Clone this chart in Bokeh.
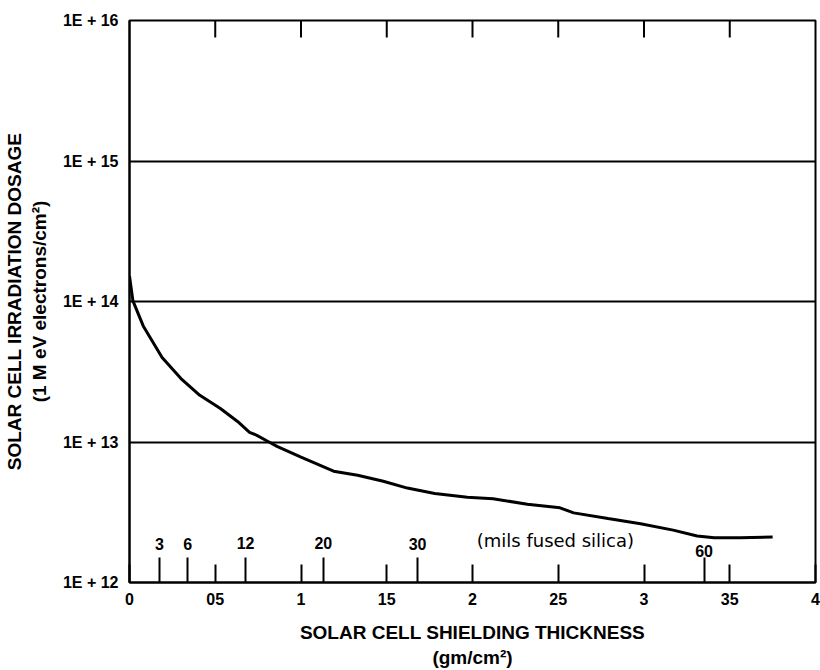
from bokeh.plotting import figure
from bokeh.models import FixedTicker, CustomJSTickFormatter, Range1d, ColumnDataSource
from bokeh.core.properties import value
from bokeh.embed import file_html
from bokeh.resources import INLINE

# ---- data ----
thickness = [0.000, 0.002, 0.008, 0.019, 0.030, 0.041, 0.053, 0.063, 0.070, 0.074,
             0.080, 0.086, 0.100, 0.119, 0.133, 0.148, 0.162, 0.178, 0.197, 0.212,
             0.232, 0.251, 0.259, 0.279, 0.298, 0.317, 0.331, 0.341, 0.356, 0.375]
dosage = [1.52e14, 1.01e14, 6.7e13, 4.0e13, 2.83e13, 2.15e13, 1.73e13, 1.40e13, 1.17e13, 1.12e13,
          1.02e13, 9.3e12, 7.8e12, 6.2e12, 5.8e12, 5.25e12, 4.7e12, 4.3e12, 4.05e12, 3.95e12,
          3.6e12, 3.4e12, 3.13e12, 2.85e12, 2.62e12, 2.36e12, 2.14e12, 2.08e12, 2.08e12, 2.11e12]

x_ticks = [0.0, 0.05, 0.1, 0.15, 0.2, 0.25, 0.3, 0.35, 0.4]
x_tick_labels = ["0", "05", "1", "15", "2", "25", "3", "35", "4"]
y_ticks = [1e12, 1e13, 1e14, 1e15, 1e16]
y_tick_labels = ["1E + 12", "1E + 13", "1E + 14", "1E + 15", "1E + 16"]

mil_labels = ["3", "6", "12", "20", "30", "60"]
mil_thickness = [0.0175, 0.0340, 0.0677, 0.1130, 0.1680, 0.3350]
mil_label_offsets = [-33, -33, -34, -34, -33, -26]
silica_note = "(mils  fused silica)"
silica_note_x = 0.25

FONT = "Liberation Sans"
W, H = 820, 670
B_LEFT, B_RIGHT, B_TOP, B_BOTTOM = 129, 5, 20, 85
TOP_TICK_PX = 17

p = figure(width=W, height=H,
           x_range=Range1d(x_ticks[0], x_ticks[-1]), y_range=Range1d(y_ticks[0], y_ticks[-1]),
           y_axis_type="log", output_backend="svg", toolbar_location=None,
           min_border_left=B_LEFT, min_border_right=B_RIGHT,
           min_border_top=B_TOP, min_border_bottom=B_BOTTOM)
p.background_fill_color = "white"
p.border_fill_color = "white"
p.outline_line_color = "black"
p.outline_line_width = 2

# grid
p.xgrid.visible = False
p.ygrid.ticker = FixedTicker(ticks=y_ticks)
p.ygrid.grid_line_color = "black"
p.ygrid.grid_line_alpha = 1.0
p.ygrid.grid_line_width = 2

# x axis (bottom)
xa = p.xaxis[0]
xa.ticker = FixedTicker(ticks=x_ticks, minor_ticks=mil_thickness)
xa.formatter = CustomJSTickFormatter(args=dict(vals=x_ticks, labs=x_tick_labels), code="""
let b = 0;
for (let i = 0; i < vals.length; i++) { if (Math.abs(vals[i] - tick) < Math.abs(vals[b] - tick)) b = i; }
return labs[b];
""")
xa.axis_line_width = 2
xa.axis_line_color = "black"
xa.major_tick_in = 18
xa.major_tick_out = 0
xa.major_tick_line_width = 2
xa.minor_tick_in = 25
xa.minor_tick_out = 0
xa.minor_tick_line_width = 2
xa.major_label_standoff = 10
xa.major_label_text_font = FONT
xa.major_label_text_font_size = "16px"
xa.major_label_text_font_style = "bold"
xa.major_label_text_color = "black"
xa.axis_label = "SOLAR CELL SHIELDING THICKNESS\n(gm/cm\u00b2)"
xa.axis_label_text_font = FONT
xa.axis_label_text_font_size = "19px"
xa.axis_label_text_font_style = "bold"
xa.axis_label_text_color = "black"
xa.axis_label_standoff = 14
xa.axis_label_text_align = "center"

# y axis (left)
ya = p.yaxis[0]
ya.ticker = FixedTicker(ticks=y_ticks)
ya.formatter = CustomJSTickFormatter(args=dict(vals=y_ticks, labs=y_tick_labels), code="""
let b = 0;
const lt = Math.log10(tick);
for (let i = 0; i < vals.length; i++) { if (Math.abs(Math.log10(vals[i]) - lt) < Math.abs(Math.log10(vals[b]) - lt)) b = i; }
return labs[b];
""")
ya.axis_line_width = 2
ya.axis_line_color = "black"
ya.major_tick_in = 0
ya.major_tick_out = 0
ya.minor_tick_in = 0
ya.minor_tick_out = 0
ya.major_label_standoff = 11
ya.major_label_text_font = FONT
ya.major_label_text_font_size = "16px"
ya.major_label_text_font_style = "bold"
ya.major_label_text_color = "black"
ya.axis_label = "SOLAR CELL IRRADIATION DOSAGE\n(1 M eV electrons/cm\u00b2)"
ya.axis_label_text_font = FONT
ya.axis_label_text_font_size = "19px"
ya.axis_label_text_font_style = "bold"
ya.axis_label_text_color = "black"
ya.axis_label_standoff = 10

# top tick marks (inward), length derived from the frame's pixels per decade
frame_h = H - B_TOP - B_BOTTOM
px_per_decade = frame_h / 4.0
top_ticks = x_ticks[1:-1]
y_top = y_ticks[-1]
y_top_end = y_top / 10 ** (TOP_TICK_PX / px_per_decade)
p.segment(x0=top_ticks, y0=[y_top] * len(top_ticks), x1=top_ticks, y1=[y_top_end] * len(top_ticks),
          line_color="black", line_width=2)

# curve
src = ColumnDataSource(dict(x=thickness, y=dosage))
p.line("x", "y", source=src, line_color="black", line_width=3)

# mils annotations
msrc = ColumnDataSource(dict(x=mil_thickness, y=[y_ticks[0]] * len(mil_thickness),
                             t=mil_labels, off=mil_label_offsets))
p.text(x="x", y="y", text="t", y_offset="off", source=msrc,
       text_align="center", text_baseline="bottom",
       text_font=value(FONT), text_font_size="16px", text_font_style="bold", text_color="black")
p.text(x=[silica_note_x], y=[y_ticks[0]], text=[silica_note], y_offset=-32,
       text_align="center", text_baseline="bottom",
       text_font=value("DejaVu Sans"), text_font_size="18px", text_color="black")

open("out.html", "w").write(file_html(p, INLINE))
